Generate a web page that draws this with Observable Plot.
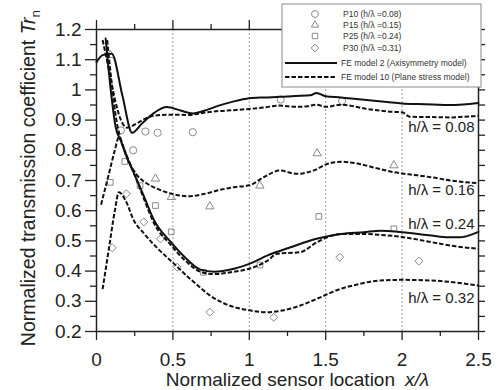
<!DOCTYPE html>
<html><head><meta charset="utf-8">
<script src="https://cdn.jsdelivr.net/npm/d3@7"></script>
<script src="https://cdn.jsdelivr.net/npm/@observablehq/plot@0.6"></script>
<style>body{margin:0;background:#fff} #chart{position:relative;width:500px;height:390px}</style>
</head><body><div id="chart"></div>
<script>
// ---- FE model 2 (solid) ----
const s08x = [0, 0.04, 0.1, 0.17, 0.233, 0.3, 0.38, 0.46, 0.55, 0.63, 0.7, 0.8, 0.9, 1.0, 1.1, 1.2, 1.3, 1.4, 1.44, 1.5, 1.6, 1.7, 1.8, 1.9, 2.0, 2.1, 2.2, 2.3, 2.4, 2.5];
const s08y = [1.092, 1.115, 1.12, 0.98, 0.858, 0.89, 0.925, 0.943, 0.932, 0.922, 0.93, 0.948, 0.962, 0.972, 0.975, 0.977, 0.98, 0.982, 0.99, 0.979, 0.975, 0.97, 0.965, 0.96, 0.955, 0.953, 0.952, 0.95, 0.952, 0.957];
const s24x = [0.06, 0.1, 0.124, 0.16, 0.2, 0.244, 0.31, 0.38, 0.48, 0.58, 0.68, 0.77, 0.9, 1.0, 1.12, 1.27, 1.44, 1.6, 1.75, 1.86, 2.0, 2.19, 2.3, 2.38, 2.45, 2.5];
const s24y = [1.17, 0.97, 0.88, 0.83, 0.775, 0.725, 0.648, 0.565, 0.5, 0.445, 0.405, 0.398, 0.408, 0.424, 0.452, 0.479, 0.507, 0.523, 0.529, 0.534, 0.529, 0.518, 0.512, 0.512, 0.52, 0.53];
// ---- FE model 10 (dashed) ----
const d08x = [0.04, 0.08, 0.12, 0.16, 0.2, 0.25, 0.3, 0.353, 0.4, 0.5, 0.6, 0.7, 0.8, 0.9, 1.0, 1.1, 1.19, 1.31, 1.38, 1.44, 1.5, 1.6, 1.77, 1.92, 2.0, 2.05, 2.2, 2.32, 2.4, 2.5];
const d08y = [1.165, 1.07, 0.97, 0.9, 0.875, 0.885, 0.9, 0.912, 0.916, 0.918, 0.917, 0.924, 0.93, 0.933, 0.937, 0.942, 0.948, 0.944, 0.946, 0.951, 0.944, 0.951, 0.937, 0.928, 0.926, 0.911, 0.91, 0.909, 0.911, 0.914];
const d16x = [0.03, 0.08, 0.12, 0.146, 0.2, 0.266, 0.33, 0.4, 0.5, 0.6, 0.7, 0.8, 0.9, 1.0, 1.095, 1.2, 1.31, 1.43, 1.51, 1.6, 1.7, 1.8, 1.94, 2.1, 2.2, 2.32, 2.4, 2.5];
const d16y = [0.62, 0.72, 0.8, 0.843, 0.775, 0.717, 0.69, 0.672, 0.655, 0.648, 0.655, 0.668, 0.678, 0.684, 0.711, 0.733, 0.722, 0.735, 0.755, 0.762, 0.757, 0.745, 0.728, 0.717, 0.71, 0.70, 0.695, 0.691];
const d24x = [0.07, 0.1, 0.13, 0.16, 0.2, 0.25, 0.31, 0.38, 0.48, 0.58, 0.68, 0.77, 0.9, 1.0, 1.12, 1.18, 1.335, 1.444, 1.6, 1.75, 1.86, 2.0, 2.19, 2.35, 2.5];
const d24y = [1.165, 1.02, 0.9, 0.835, 0.78, 0.718, 0.64, 0.555, 0.49, 0.435, 0.398, 0.39, 0.398, 0.408, 0.435, 0.457, 0.463, 0.496, 0.523, 0.523, 0.52, 0.513, 0.496, 0.482, 0.474];
const d32x = [0.04, 0.08, 0.12, 0.146, 0.19, 0.244, 0.31, 0.4, 0.5, 0.6, 0.68, 0.746, 0.85, 1.0, 1.117, 1.2, 1.335, 1.45, 1.597, 1.7, 1.86, 2.0, 2.19, 2.35, 2.5];
const d32y = [0.34, 0.47, 0.6, 0.661, 0.634, 0.568, 0.525, 0.475, 0.428, 0.38, 0.345, 0.318, 0.29, 0.27, 0.264, 0.268, 0.286, 0.31, 0.341, 0.355, 0.369, 0.371, 0.369, 0.362, 0.352];
// ---- experiments ----
const p10x = [0.16, 0.24, 0.32, 0.40, 0.63, 1.205, 1.607];
const p10y = [0.866, 0.80, 0.862, 0.858, 0.86, 0.968, 0.963];
const p15x = [0.09, 0.386, 0.49, 0.742, 1.069, 1.444, 1.946];
const p15y = [1.115, 0.706, 0.645, 0.614, 0.683, 0.79, 0.75];
const p25x = [0.09, 0.185, 0.285, 0.386, 0.489, 0.70, 1.07, 1.455, 1.946];
const p25y = [0.694, 0.763, 0.683, 0.617, 0.53, 0.396, 0.42, 0.581, 0.54];
const p30x = [0.103, 0.196, 0.31, 0.419, 0.528, 0.742, 1.16, 1.592, 2.11];
const p30y = [0.477, 0.656, 0.563, 0.507, 0.413, 0.264, 0.247, 0.446, 0.433];
// ---- annotations / ticks ----
const annoLabels = ["h/λ = 0.08", "h/λ = 0.16", "h/λ = 0.24", "h/λ = 0.32"];
const annoY = [0.875, 0.668, 0.554, 0.311];
const legendLabels = ["P10 (h/λ =0.08)", "P15 (h/λ =0.15)", "P25 (h/λ =0.24)", "P30 (h/λ =0.31)", "FE model 2 (Axisymmetry model)", "FE model 10 (Plane stress model)"];
const yMajor = [0.2, 0.3, 0.4, 0.5, 0.6, 0.7, 0.8, 0.9, 1.0, 1.1, 1.2];
const yMinor = [0.25, 0.35, 0.45, 0.55, 0.65, 0.75, 0.85, 0.95, 1.05, 1.15];
const xMajor = [0, 0.5, 1, 1.5, 2, 2.5];
const xMinor = [0.25, 0.75, 1.25, 1.75, 2.25];
const gridX = [0.5, 1, 1.5, 2];

const rows = (xs, ys, name) => xs.map((x, i) => ({x, y: ys[i], s: name}));
const solid = [...rows(s08x, s08y, "s08"), ...rows(s24x, s24y, "s24")];
const dashed = [...rows(d08x, d08y, "d08"), ...rows(d16x, d16y, "d16"), ...rows(d24x, d24y, "d24"), ...rows(d32x, d32y, "d32")];
const anno = annoLabels.map((t, i) => ({x: 2.5, y: annoY[i], t}));
const fmt = d => String(+d.toFixed(2));
const blank = () => "";
const FONT = "'Liberation Sans', Arial, Helvetica, sans-serif";
const mk = {stroke: "#8a8a8a", fill: "none", strokeWidth: 1, r: 3.6};
const DASH = "4.5,2";

const plot = Plot.plot({
  width: 500, height: 390,
  marginLeft: 96, marginRight: 22, marginTop: 29, marginBottom: 59,
  style: {fontFamily: FONT, fontSize: "19px", color: "#222", background: "#fff", overflow: "visible"},
  x: {domain: [0, 2.5], label: null},
  y: {domain: [0.2, 1.2], label: null},
  marks: [
    Plot.ruleX(gridX, {stroke: "#9a9a9a", strokeDasharray: "2,2", strokeWidth: 1}),
    Plot.axisY(yMajor, {anchor: "left", tickSize: 11, tickPadding: 4, tickFormat: fmt, label: null, strokeWidth: 1.3, fontSize: 19}),
    Plot.axisY(yMinor, {anchor: "left", tickSize: 6, tickFormat: blank, label: null, strokeWidth: 1.3}),
    Plot.axisY([...yMajor, ...yMinor], {anchor: "right", tickSize: 6, tickFormat: blank, label: null, strokeWidth: 1.3}),
    Plot.axisX(xMajor, {anchor: "bottom", tickSize: 9, tickPadding: 12, tickFormat: fmt, label: null, strokeWidth: 1.3, fontSize: 19}),
    Plot.axisX(xMinor, {anchor: "bottom", tickSize: 5, tickFormat: blank, label: null, strokeWidth: 1.3}),
    Plot.axisX(xMajor, {anchor: "top", tickSize: 10, tickFormat: blank, label: null, strokeWidth: 1.3}),
    Plot.axisX(xMinor, {anchor: "top", tickSize: 6, tickFormat: blank, label: null, strokeWidth: 1.3}),
    Plot.frame({stroke: "#222", strokeWidth: 1.5}),
    Plot.dot(rows(p10x, p10y, "P10"), {x: "x", y: "y", symbol: "circle", ...mk}),
    Plot.dot(rows(p15x, p15y, "P15"), {x: "x", y: "y", symbol: "triangle2", ...mk, r: 4}),
    Plot.dot(rows(p25x, p25y, "P25"), {x: "x", y: "y", symbol: "square2", ...mk}),
    Plot.dot(rows(p30x, p30y, "P30"), {x: "x", y: "y", symbol: "diamond2", ...mk}),
    Plot.line(dashed, {x: "x", y: "y", z: "s", stroke: "#111", strokeWidth: 2, strokeDasharray: DASH, strokeLinecap: "butt", curve: "monotone-x"}),
    Plot.line(solid, {x: "x", y: "y", z: "s", stroke: "#111", strokeWidth: 2, curve: "monotone-x"}),
    Plot.text(anno, {x: "x", y: "y", text: "t", textAnchor: "end", dx: -4, fontSize: 15, fill: "#222"})
  ]
});
document.getElementById("chart").appendChild(plot);

const svg = d3.select(plot);
// axis titles
const yl = svg.append("text").attr("transform", "translate(35,178) rotate(-90)")
  .attr("text-anchor", "middle").attr("font-size", 19.5).attr("fill", "#222").attr("font-family", FONT);
yl.append("tspan").text("Normalized transmission coefficient ");
yl.append("tspan").attr("font-style", "italic").text("Tr");
yl.append("tspan").attr("font-size", 13.5).attr("dy", 5).text("n");
svg.append("text").attr("x", 395).attr("y", 386)
  .attr("text-anchor", "end").attr("font-size", 19).attr("fill", "#222").attr("font-family", FONT)
  .text("Normalized sensor location");
svg.append("text").attr("x", 405).attr("y", 386)
  .attr("text-anchor", "start").attr("font-size", 19).attr("font-style", "italic").attr("fill", "#222").attr("font-family", FONT)
  .text("x/λ");

// legend
const lg = svg.append("g").attr("font-family", FONT).attr("font-size", 8.5).attr("fill", "#333").attr("text-anchor", "start");
lg.append("rect").attr("x", 282).attr("y", 4).attr("width", 199).attr("height", 83)
  .attr("fill", "#fff").attr("stroke", "#8a8a8a").attr("stroke-width", 1);
const syms = [d3.symbolCircle, d3.symbolTriangle2, d3.symbolSquare2, d3.symbolDiamond2];
const symY = [14, 25, 36, 48];
syms.forEach((s, i) => {
  lg.append("path").attr("d", d3.symbol(s, 38)()).attr("transform", `translate(315,${symY[i]})`)
    .attr("fill", "none").attr("stroke", "#8a8a8a");
  lg.append("text").attr("x", 343).attr("y", symY[i] + 3).attr("text-anchor", "start").text(legendLabels[i]);
});
[[63, null], [77, DASH]].forEach(([y, da], i) => {
  lg.append("line").attr("x1", 285).attr("x2", 337).attr("y1", y).attr("y2", y)
    .attr("stroke", "#111").attr("stroke-width", 2).attr("stroke-dasharray", da);
  lg.append("text").attr("x", 341).attr("y", y + 3).attr("text-anchor", "start").text(legendLabels[4 + i]);
});
</script></body></html>
